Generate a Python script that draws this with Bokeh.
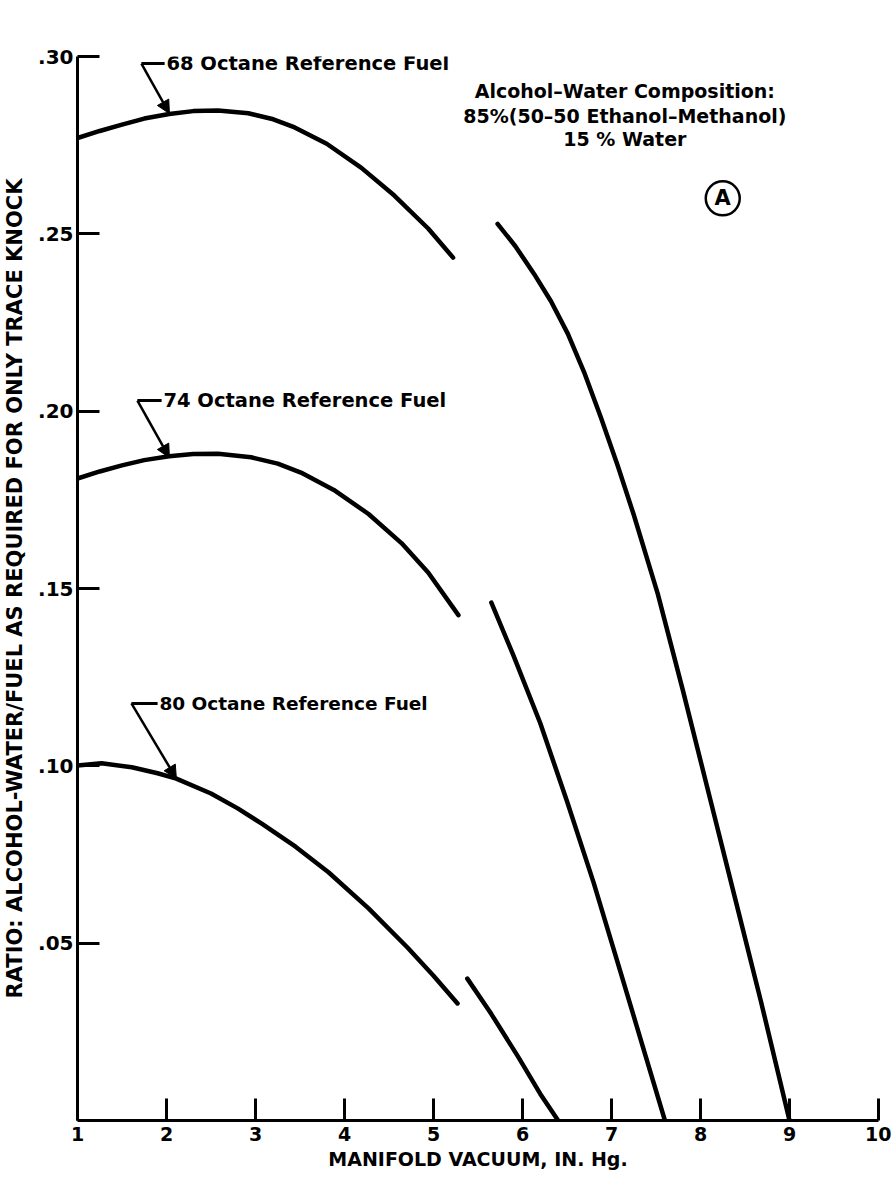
from bokeh.plotting import figure
from bokeh.models import FixedTicker, Arrow, NormalHead, Label, Range1d
from bokeh.embed import file_html
from bokeh.resources import INLINE
from bokeh.core.properties import value

# ---------------- data ----------------
x_ticks = [1, 2, 3, 4, 5, 6, 7, 8, 9, 10]
x_tick_labels = ["1", "2", "3", "4", "5", "6", "7", "8", "9", "10"]
y_ticks = [0.05, 0.10, 0.15, 0.20, 0.25, 0.30]
y_tick_labels = [".05", ".10", ".15", ".20", ".25", ".30"]

# 68 octane reference fuel (two segments)
vac_68_a = [1.0, 1.25, 1.5, 1.75, 2.03, 2.3, 2.58, 2.92, 3.2, 3.44, 3.8, 4.19, 4.56, 4.94, 5.22]
rat_68_a = [0.2770, 0.2790, 0.2808, 0.2825, 0.2838, 0.2846, 0.2848, 0.2840, 0.2823, 0.2800,
            0.2754, 0.2686, 0.2608, 0.2515, 0.2433]
vac_68_b = [5.72, 5.92, 6.13, 6.32, 6.51, 6.70, 6.88, 7.07, 7.25, 7.52, 7.80, 8.10, 8.40, 8.68, 9.0]
rat_68_b = [0.2528, 0.2465, 0.2387, 0.2310, 0.2218, 0.2105, 0.1983, 0.1846, 0.1708, 0.1485,
            0.1215, 0.0915, 0.0615, 0.0335, 0.0]

# 74 octane reference fuel
vac_74_a = [1.0, 1.25, 1.5, 1.75, 2.03, 2.3, 2.58, 2.95, 3.25, 3.51, 3.88, 4.27, 4.64, 4.94, 5.28]
rat_74_a = [0.1810, 0.1830, 0.1847, 0.1862, 0.1873, 0.1879, 0.1880, 0.1870, 0.1852, 0.1827,
            0.1778, 0.1710, 0.1628, 0.1545, 0.1425]
vac_74_b = [5.65, 5.9, 6.2, 6.5, 6.8, 7.1, 7.35, 7.6]
rat_74_b = [0.146, 0.131, 0.112, 0.090, 0.067, 0.042, 0.021, 0.0]

# 80 octane reference fuel
vac_80_a = [1.0, 1.27, 1.61, 1.9, 2.11, 2.5, 2.8, 3.07, 3.45, 3.82, 4.27, 4.71, 5.0, 5.27]
rat_80_a = [0.1001, 0.1007, 0.0996, 0.0979, 0.0964, 0.0922, 0.0880, 0.0837, 0.0772, 0.0700,
            0.0598, 0.0487, 0.0408, 0.0330]
vac_80_b = [5.38, 5.65, 5.95, 6.2, 6.4]
rat_80_b = [0.040, 0.030, 0.018, 0.0075, 0.0]

fuel_labels = ["68 Octane Reference Fuel", "74 Octane Reference Fuel", "80 Octane Reference Fuel"]
composition_lines = ["Alcohol\u2013Water Composition:",
                     "85%(50\u201350 Ethanol\u2013Methanol)",
                     "15 % Water"]
x_title = "MANIFOLD VACUUM, IN. Hg."
y_title = "RATIO: ALCOHOL-WATER/FUEL AS REQUIRED FOR ONLY TRACE KNOCK"

# ---------------- annotation placement (data coords) ----------------
# leader: (x_knee, y_text, x_text, x_tip, y_tip, font size)
leaders = [
    (1.718, 0.298, 1.999, 2.033, 0.2839, "19.5px"),
    (1.673, 0.2030, 1.965, 2.033, 0.1869, "19.5px"),
    (1.606, 0.1176, 1.920, 2.111, 0.0964, "18.5px"),
]
comp_x = 7.15
comp_y = [0.2904, 0.2833, 0.2768]
mark_a = (8.25, 0.260)

FONT = "DejaVu Sans"

p = figure(width=891, height=1178,
           x_range=Range1d(1, 10), y_range=Range1d(0, 0.30),
           output_backend="svg", toolbar_location=None,
           min_border_left=76, min_border_right=13,
           min_border_top=56, min_border_bottom=58)
p.outline_line_color = None
p.grid.visible = False
p.background_fill_color = "white"
p.border_fill_color = "white"

# x axis
xa = p.xaxis[0]
xa.ticker = FixedTicker(ticks=x_ticks)
xa.major_label_overrides = {t: l for t, l in zip(x_ticks, x_tick_labels)}
xa.axis_line_width = 3
xa.axis_line_color = "black"
xa.major_tick_line_width = 3
xa.major_tick_in = 22
xa.major_tick_out = 0
xa.minor_tick_line_color = None
xa.major_label_text_font = FONT
xa.major_label_text_font_style = "bold"
xa.major_label_text_font_size = "19px"
xa.major_label_text_color = "black"
xa.major_label_standoff = 6
xa.axis_label = x_title
xa.axis_label_text_font = FONT
xa.axis_label_text_font_style = "bold"
xa.axis_label_text_font_size = "19px"
xa.axis_label_text_color = "black"
xa.axis_label_standoff = 4

# y axis
ya = p.yaxis[0]
ya.ticker = FixedTicker(ticks=y_ticks)
ya.major_label_overrides = {t: l for t, l in zip(y_ticks, y_tick_labels)}
ya.axis_line_width = 3
ya.axis_line_color = "black"
ya.major_tick_line_width = 3
ya.major_tick_in = 22
ya.major_tick_out = 0
ya.minor_tick_line_color = None
ya.major_label_text_font = FONT
ya.major_label_text_font_style = "bold"
ya.major_label_text_font_size = "20px"
ya.major_label_text_color = "black"
ya.major_label_standoff = 4
ya.axis_label = y_title
ya.axis_label_text_font = FONT
ya.axis_label_text_font_style = "bold"
ya.axis_label_text_font_size = "21px"
ya.axis_label_text_color = "black"
ya.axis_label_standoff = 8

# curves
for xs, ys in [(vac_68_a, rat_68_a), (vac_68_b, rat_68_b),
               (vac_74_a, rat_74_a), (vac_74_b, rat_74_b),
               (vac_80_a, rat_80_a), (vac_80_b, rat_80_b)]:
    p.line(xs, ys, line_color="black", line_width=4.5, line_cap="round", line_join="round")

# leaders, arrows, labels
for (xk, yt, xt, xtip, ytip, fs), txt in zip(leaders, fuel_labels):
    p.segment(x0=[xk], y0=[yt], x1=[xt - 0.02], y1=[yt], line_color="black", line_width=3)
    p.add_layout(Arrow(end=NormalHead(size=13, fill_color="black", line_color="black"),
                       x_start=xk, y_start=yt, x_end=xtip, y_end=ytip,
                       line_color="black", line_width=2.5))
    p.add_layout(Label(x=xt, y=yt, text=txt, text_font=FONT, text_font_style="bold",
                       text_font_size=fs, text_color="black",
                       text_align="left", text_baseline="middle"))

for line_txt, yy in zip(composition_lines, comp_y):
    p.add_layout(Label(x=comp_x, y=yy, text=line_txt, text_font=FONT, text_font_style="bold",
                       text_font_size="19px", text_color="black",
                       text_align="center", text_baseline="middle"))

p.scatter(x=[mark_a[0]], y=[mark_a[1]], marker="circle", size=34,
          fill_color="white", line_color="black", line_width=2.5)
p.text(x=[mark_a[0]], y=[mark_a[1]], text=["A"], text_font=value(FONT),
       text_font_style="bold", text_font_size="21px", text_color="black",
       text_align="center", text_baseline="middle")

open("out.html", "w").write(file_html(p, INLINE))
